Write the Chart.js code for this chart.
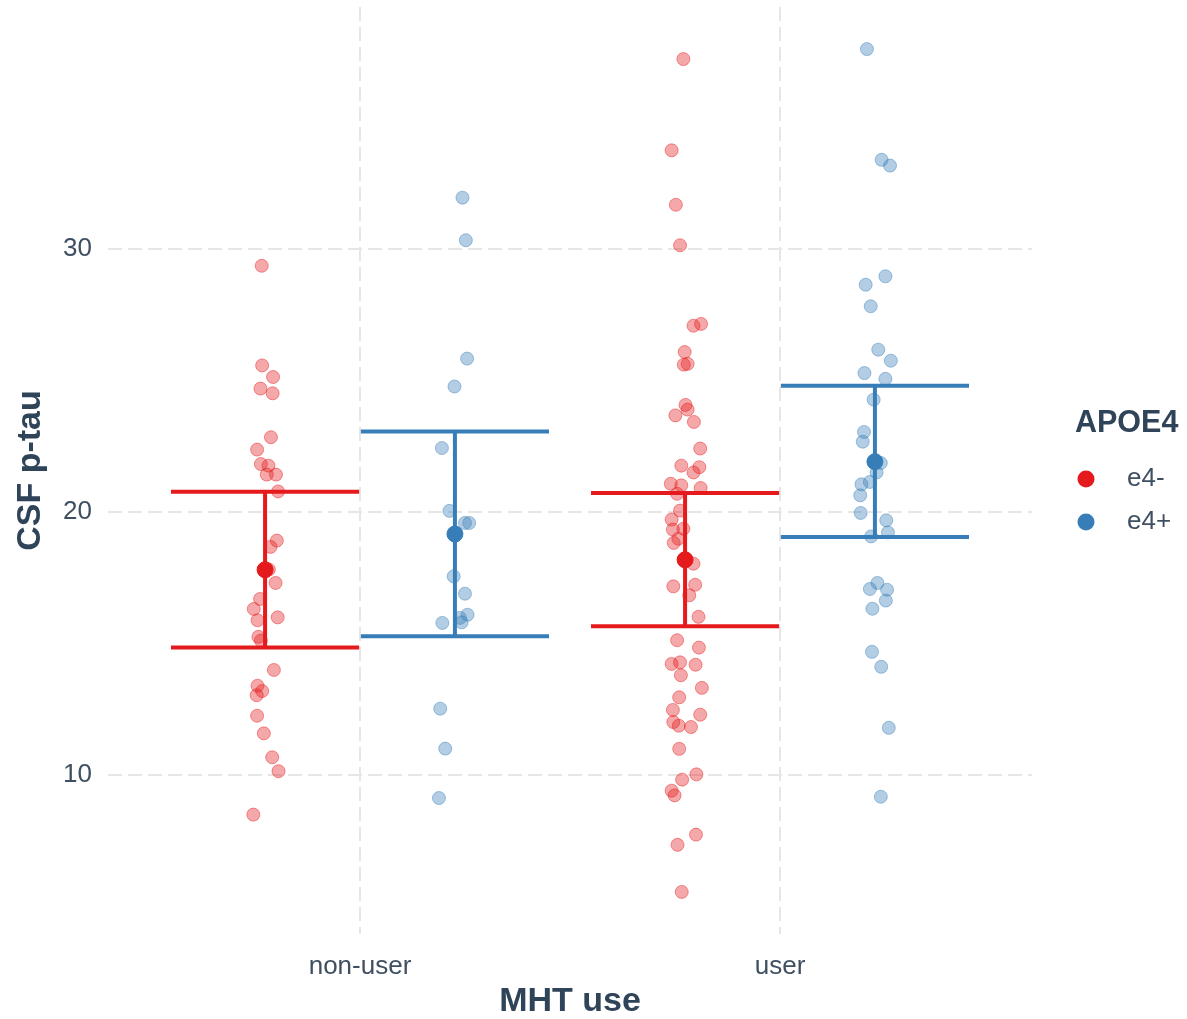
<!DOCTYPE html>
<html lang="en">
<head>
<meta charset="utf-8">
<title>CSF p-tau by MHT use and APOE4</title>
<script src="https://cdn.jsdelivr.net/npm/chart.js@4"></script>
<style>
  html, body { margin: 0; padding: 0; background: #fff; }
  #wrap { width: 1187px; height: 1019px; }
</style>
</head>
<body>
<div id="wrap"><canvas id="ptauChart"></canvas></div>
<script>
const categories = ['non-user', 'user'];
const apoeGroups = ['e4-', 'e4+'];
const yTicks = [10, 20, 30];
const dodge = 0.226;     // e4- left of the category, e4+ right
const capHalf = 0.224;   // half width of the error bar caps

// jittered observations: x offset from the category centre, p-tau value
const nonUserNegX = [-0.234,-0.233,-0.207,-0.237,-0.208,-0.212,-0.245,-0.236,-0.218,-0.222,-0.200,-0.195,-0.198,-0.213,-0.217,-0.201,-0.238,-0.253,-0.196,-0.244,-0.242,-0.236,-0.205,-0.244,-0.233,-0.246,-0.245,-0.229,-0.209,-0.194,-0.254];
const nonUserNegY = [29.35,25.56,25.12,24.68,24.50,22.83,22.36,21.81,21.75,21.41,21.41,20.77,18.90,18.66,17.80,17.29,16.68,16.30,15.98,15.87,15.24,15.10,13.98,13.38,13.18,13.02,12.24,11.57,10.66,10.13,8.48];

const nonUserPosX = [0.244,0.252,0.255,0.225,0.195,0.213,0.250,0.260,0.223,0.250,0.256,0.238,0.242,0.196,0.191,0.203,0.188];
const nonUserPosY = [31.94,30.32,25.82,24.76,22.42,20.03,19.57,19.57,17.54,16.88,16.08,15.96,15.79,15.77,12.51,10.99,9.11];

const userNegX = [-0.230,-0.258,-0.248,-0.238,-0.206,-0.188,-0.227,-0.229,-0.220,-0.225,
  -0.220,-0.249,-0.205,-0.190,-0.235,-0.192,-0.206,-0.260,-0.235,-0.189,
  -0.245,-0.238,-0.258,-0.230,-0.255,-0.242,-0.253,-0.206,-0.254,-0.202,
  -0.216,-0.194,-0.245,-0.193,-0.258,-0.238,-0.201,-0.236,-0.186,-0.240,
  -0.255,-0.190,-0.254,-0.241,-0.212,-0.240,-0.199,-0.233,-0.258,-0.251,
  -0.200,-0.244,-0.234];
const userNegY = [37.21,33.74,31.67,30.13,27.07,27.14,26.07,25.59,25.62,24.06,
  23.88,23.66,23.41,22.40,21.75,21.69,21.49,21.06,21.00,20.90,
  20.68,20.04,19.70,19.35,19.32,18.97,18.81,18.02,17.16,17.22,
  16.82,16.00,15.11,14.83,14.21,14.27,14.18,13.78,13.30,12.94,
  12.46,12.28,12.00,11.86,11.81,10.98,10.01,9.81,9.39,9.21,
  7.72,7.33,5.54];

const userPosX = [0.207,0.242,0.262,0.251,0.204,0.216,0.234,0.264,0.201,0.251,0.223,0.200,0.197,0.240,0.230,0.214,0.194,0.191,0.192,0.253,0.257,0.217,0.232,0.214,0.255,0.252,0.220,0.219,0.241,0.259,0.240];
const userPosY = [37.59,33.38,33.16,28.95,28.63,27.81,26.16,25.74,25.27,25.05,24.26,23.03,22.66,21.85,21.49,21.13,21.04,20.62,19.95,19.67,19.21,19.06,17.29,17.06,17.03,16.62,16.31,14.67,14.10,11.78,9.16];

// group summaries per category (non-user, user)
const meanNeg = [17.79, 18.17];
const lowerNeg = [14.83, 15.64];
const upperNeg = [20.76, 20.71];
const meanPos = [19.15, 21.90];
const lowerPos = [15.26, 19.04];
const upperPos = [23.05, 24.79];

const red = '#E41A1C';
const blue = '#377EB8';
const titleColor = '#2f4459';
const tickColor = '#3e4f61';
const gridColor = '#e6e6e6';
const fontFamily = '"Liberation Sans", Arial, Helvetica, sans-serif';

function points(cat, xs, ys) {
  return ys.map((y, i) => ({ x: cat + xs[i], y: y }));
}

// one line dataset per group: top cap, vertical bar, bottom cap
function errorBar(cat, lo, hi) {
  return [
    { x: cat - capHalf, y: hi }, { x: cat + capHalf, y: hi }, { x: cat, y: null },
    { x: cat, y: hi }, { x: cat, y: lo }, { x: cat, y: null },
    { x: cat - capHalf, y: lo }, { x: cat + capHalf, y: lo }
  ];
}

const jitterStyle = (fill, edge) => ({
  backgroundColor: fill, borderColor: edge, borderWidth: 1,
  pointRadius: 6.5, order: 3
});

const datasets = [
  Object.assign({ label: 'e4- non-user', data: points(1, nonUserNegX, nonUserNegY) },
    jitterStyle('rgba(228,26,28,0.38)', 'rgba(228,26,28,0.45)')),
  Object.assign({ label: 'e4+ non-user', data: points(1, nonUserPosX, nonUserPosY) },
    jitterStyle('rgba(55,126,184,0.38)', 'rgba(55,126,184,0.45)')),
  Object.assign({ label: 'e4- user', data: points(2, userNegX, userNegY) },
    jitterStyle('rgba(228,26,28,0.38)', 'rgba(228,26,28,0.45)')),
  Object.assign({ label: 'e4+ user', data: points(2, userPosX, userPosY) },
    jitterStyle('rgba(55,126,184,0.38)', 'rgba(55,126,184,0.45)'))
];

[0, 1].forEach(i => {
  const cat = i + 1;
  datasets.push({
    label: 'e4- bar', data: errorBar(cat - dodge, lowerNeg[i], upperNeg[i]),
    showLine: true, borderColor: red, borderWidth: 4, pointRadius: 0, order: 2
  });
  datasets.push({
    label: 'e4+ bar', data: errorBar(cat + dodge, lowerPos[i], upperPos[i]),
    showLine: true, borderColor: blue, borderWidth: 4, pointRadius: 0, order: 2
  });
});

datasets.push({
  label: 'e4- mean', data: meanNeg.map((m, i) => ({ x: i + 1 - dodge, y: m })),
  backgroundColor: red, borderColor: red, pointRadius: 8, order: 1
});
datasets.push({
  label: 'e4+ mean', data: meanPos.map((m, i) => ({ x: i + 1 + dodge, y: m })),
  backgroundColor: blue, borderColor: blue, pointRadius: 8, order: 1
});

// legend drawn to the right of the plot, like the ggplot guide
const apoeLegend = {
  id: 'apoeLegend',
  afterDraw(chart) {
    const ctx = chart.ctx;
    const left = chart.chartArea.right + 43;
    ctx.save();
    ctx.textBaseline = 'middle';
    ctx.fillStyle = titleColor;
    ctx.font = 'bold 30.5px ' + fontFamily;
    ctx.fillText('APOE4', left, 424);
    const colors = [red, blue];
    apoeGroups.forEach((g, i) => {
      const y = 479 + i * 43;
      ctx.beginPath();
      ctx.arc(left + 11, y, 8.5, 0, Math.PI * 2);
      ctx.fillStyle = colors[i];
      ctx.fill();
      ctx.fillStyle = tickColor;
      ctx.font = '26px ' + fontFamily;
      ctx.fillText(g, left + 52, y);
    });
    ctx.restore();
  }
};

new Chart(document.getElementById('ptauChart'), {
  type: 'scatter',
  data: { datasets: datasets },
  plugins: [apoeLegend],
  options: {
    responsive: true,
    maintainAspectRatio: false,
    animation: false,
    layout: { autoPadding: false, padding: { top: 7, right: 155, left: 0, bottom: 0 } },
    plugins: { legend: { display: false }, tooltip: { enabled: false } },
    scales: {
      x: {
        type: 'linear',
        min: 0.4,
        max: 2.6,
        afterBuildTicks: axis => { axis.ticks = [1, 2].map(v => ({ value: v })); },
        afterFit: axis => { axis.height = 85; axis.paddingLeft = 0; axis.paddingRight = 0; },
        border: { display: false, dash: [14, 6] },
        grid: { color: gridColor, lineWidth: 2, drawTicks: false },
        ticks: {
          padding: 17,
          color: tickColor,
          font: { family: fontFamily, size: 26 },
          callback: v => categories[v - 1]
        },
        title: {
          display: true, text: 'MHT use', color: titleColor,
          font: { family: fontFamily, size: 34, weight: 'bold', lineHeight: 1 },
          padding: { top: 0, bottom: 0 }
        }
      },
      y: {
        min: 3.94,
        max: 39.19,
        afterBuildTicks: axis => { axis.ticks = yTicks.map(v => ({ value: v })); },
        afterFit: axis => { axis.width = 108; axis.paddingTop = 0; axis.paddingBottom = 0; },
        border: { display: false, dash: [14, 6] },
        grid: { color: gridColor, lineWidth: 2, drawTicks: false },
        ticks: {
          padding: 16,
          color: tickColor,
          font: { family: fontFamily, size: 26 }
        },
        title: {
          display: true, text: 'CSF p-tau', color: titleColor,
          font: { family: fontFamily, size: 34, weight: 'bold', lineHeight: 1.2 },
          padding: { top: 10, bottom: 0 }
        }
      }
    }
  }
});
</script>
</body>
</html>
